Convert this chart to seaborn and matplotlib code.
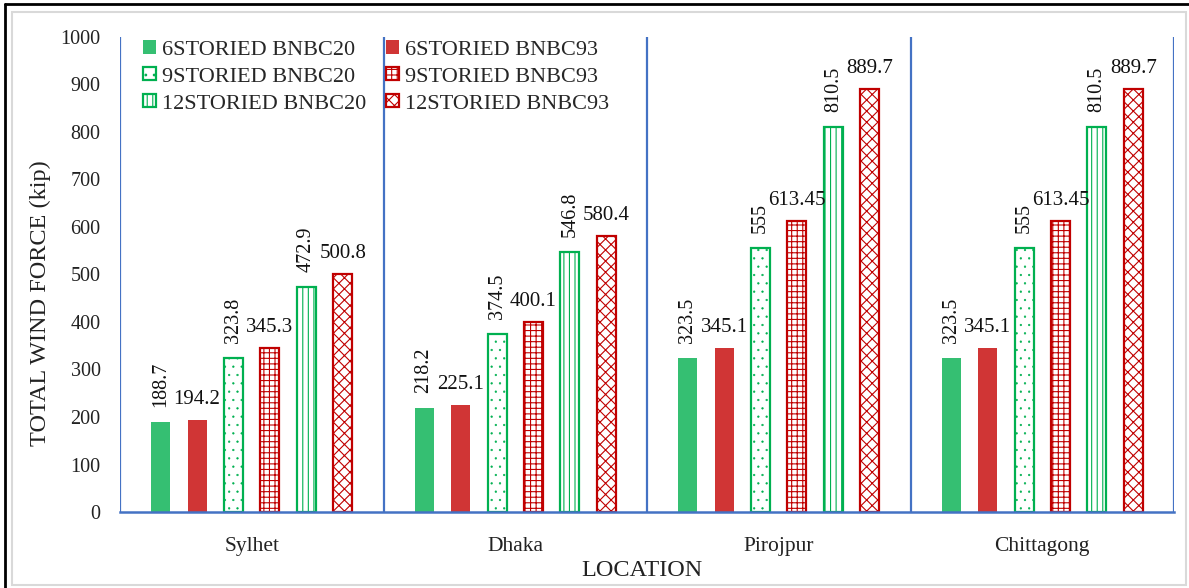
import matplotlib
matplotlib.use("Agg")
import matplotlib.pyplot as plt
from matplotlib.lines import Line2D
from matplotlib.patches import Rectangle
import pandas as pd
import seaborn as sns

# ---- data -------------------------------------------------------------
locations = ["Sylhet", "Dhaka", "Pirojpur", "Chittagong"]
series = ["6STORIED BNBC20", "6STORIED BNBC93",
          "9STORIED BNBC20", "9STORIED BNBC93",
          "12STORIED BNBC20", "12STORIED BNBC93"]
bnbc20_6 = [188.7, 218.2, 323.5, 323.5]
bnbc93_6 = [194.2, 225.1, 345.1, 345.1]
bnbc20_9 = [323.8, 374.5, 555, 555]
bnbc93_9 = [345.3, 400.1, 613.45, 613.45]
bnbc20_12 = [472.9, 546.8, 810.5, 810.5]
bnbc93_12 = [500.8, 580.4, 889.7, 889.7]
y_ticks = [0, 100, 200, 300, 400, 500, 600, 700, 800, 900, 1000]

values = [bnbc20_6, bnbc93_6, bnbc20_9, bnbc93_9, bnbc20_12, bnbc93_12]
df = pd.DataFrame(
    [(loc, s, v[i]) for s, v in zip(series, values) for i, loc in enumerate(locations)],
    columns=["location", "series", "force"],
)

# ---- styles -----------------------------------------------------------
GREEN_FILL, RED_FILL = "#35BF72", "#D03535"
GREEN_EDGE, RED_EDGE = "#00B050", "#C00000"
BLUE = "#4472C4"
styles = {
    "6STORIED BNBC20": dict(fc=GREEN_FILL, ec=GREEN_FILL, hatch=None, lw=0, hlw=0.8),
    "6STORIED BNBC93": dict(fc=RED_FILL, ec=RED_FILL, hatch=None, lw=0, hlw=0.8),
    "9STORIED BNBC20": dict(fc="white", ec=GREEN_EDGE, hatch="..", lw=1.6, hlw=0.4),
    "9STORIED BNBC93": dict(fc="white", ec=RED_EDGE, hatch="+++", lw=1.6, hlw=0.8),
    "12STORIED BNBC20": dict(fc="white", ec=GREEN_EDGE, hatch="|||", lw=1.6, hlw=0.8),
    "12STORIED BNBC93": dict(fc="white", ec=RED_EDGE, hatch="xxx", lw=1.6, hlw=0.8),
}

sns.set_theme(style="white")
plt.rcParams["font.family"] = ["Liberation Serif", "DejaVu Serif"]
plt.rcParams["hatch.linewidth"] = 0.8

W, H = 1189, 588
fig = plt.figure(figsize=(W / 100, H / 100), dpi=100)
ax = fig.add_axes([120 / W, 1 - 512 / H, (1174 - 120) / W, (512 - 37) / H])

sns.barplot(data=df, x="location", y="force", hue="series",
            order=locations, hue_order=series,
            palette=[styles[s]["fc"] for s in series], saturation=1,
            width=0.83, gap=0.48, legend=False, ax=ax)

for s, cont, vals in zip(series, ax.containers, values):
    st = styles[s]
    green = s.endswith("BNBC20")
    for patch, v in zip(cont.patches, vals):
        patch.set_facecolor(st["fc"])
        patch.set_edgecolor(st["ec"])
        patch.set_linewidth(st["lw"])
        if st["hatch"]:
            patch.set_hatch(st["hatch"])
            if hasattr(patch, "set_hatch_linewidth"):
                patch.set_hatch_linewidth(st["hlw"])
        xc = patch.get_x() + patch.get_width() / 2
        label = f"{v:g}"
        if green:
            ax.annotate(label, (xc, v), xytext=(0, 11), textcoords="offset points",
                        ha="center", va="bottom", rotation=90, fontsize=14.5,
                        color="#111111")
        else:
            ax.annotate(label, (xc, v), xytext=(0, 8), textcoords="offset points",
                        ha="center", va="bottom", fontsize=15, color="#111111")
    cont.set_label(s)

# category separators
for xb in [-0.5, 0.5, 1.5, 2.5, 3.5]:
    ax.axvline(xb, color=BLUE, lw=1.6, zorder=0.5)

ax.set_xlim(-0.5, 3.5)
ax.set_ylim(0, 1000)
ax.set_yticks(y_ticks)
ax.set_yticklabels([str(t) for t in y_ticks])
for side in ["top", "right", "left"]:
    ax.spines[side].set_visible(False)
ax.spines["bottom"].set_color(BLUE)
ax.spines["bottom"].set_linewidth(1.8)
ax.tick_params(axis="y", length=0, pad=14, labelsize=14.5, labelcolor="#222222")
ax.tick_params(axis="x", length=0, pad=18, labelsize=15.5, labelcolor="#222222")
ax.grid(False)

ax.set_xlabel("LOCATION", fontsize=17.5, color="#222222")
ax.set_ylabel("TOTAL WIND FORCE (kip)", fontsize=17.5, color="#222222")
ax.xaxis.set_label_coords(0.495, -0.1)
ax.yaxis.set_label_coords(-0.065, 0.44)

# legend: green series in the first column, red in the second
order = [0, 2, 4, 1, 3, 5]
handles = [ax.containers[i] for i in order]
labels = [series[i] for i in order]
ax.legend(handles, labels, loc="upper left", bbox_to_anchor=(0.02, 0.998),
          ncol=2, frameon=False, fontsize=16, handlelength=0.55, handleheight=0.55,
          handletextpad=0.3, columnspacing=0.9, labelspacing=0.33,
          borderaxespad=0, borderpad=0.1)

# frame around the figure
fig.add_artist(Rectangle((12 / W, 1 - 585 / H), (1186 - 12) / W, (585 - 12) / H,
                         transform=fig.transFigure, fill=False,
                         edgecolor="#D9D9D9", lw=1.5))
fig.add_artist(Line2D([5 / W, 5 / W], [0, 1 - 4 / H], transform=fig.transFigure,
                      color="black", lw=2))
fig.add_artist(Line2D([5 / W, 1], [1 - 4 / H, 1 - 4 / H], transform=fig.transFigure,
                      color="black", lw=2))

fig.savefig("out.png", dpi=100)
